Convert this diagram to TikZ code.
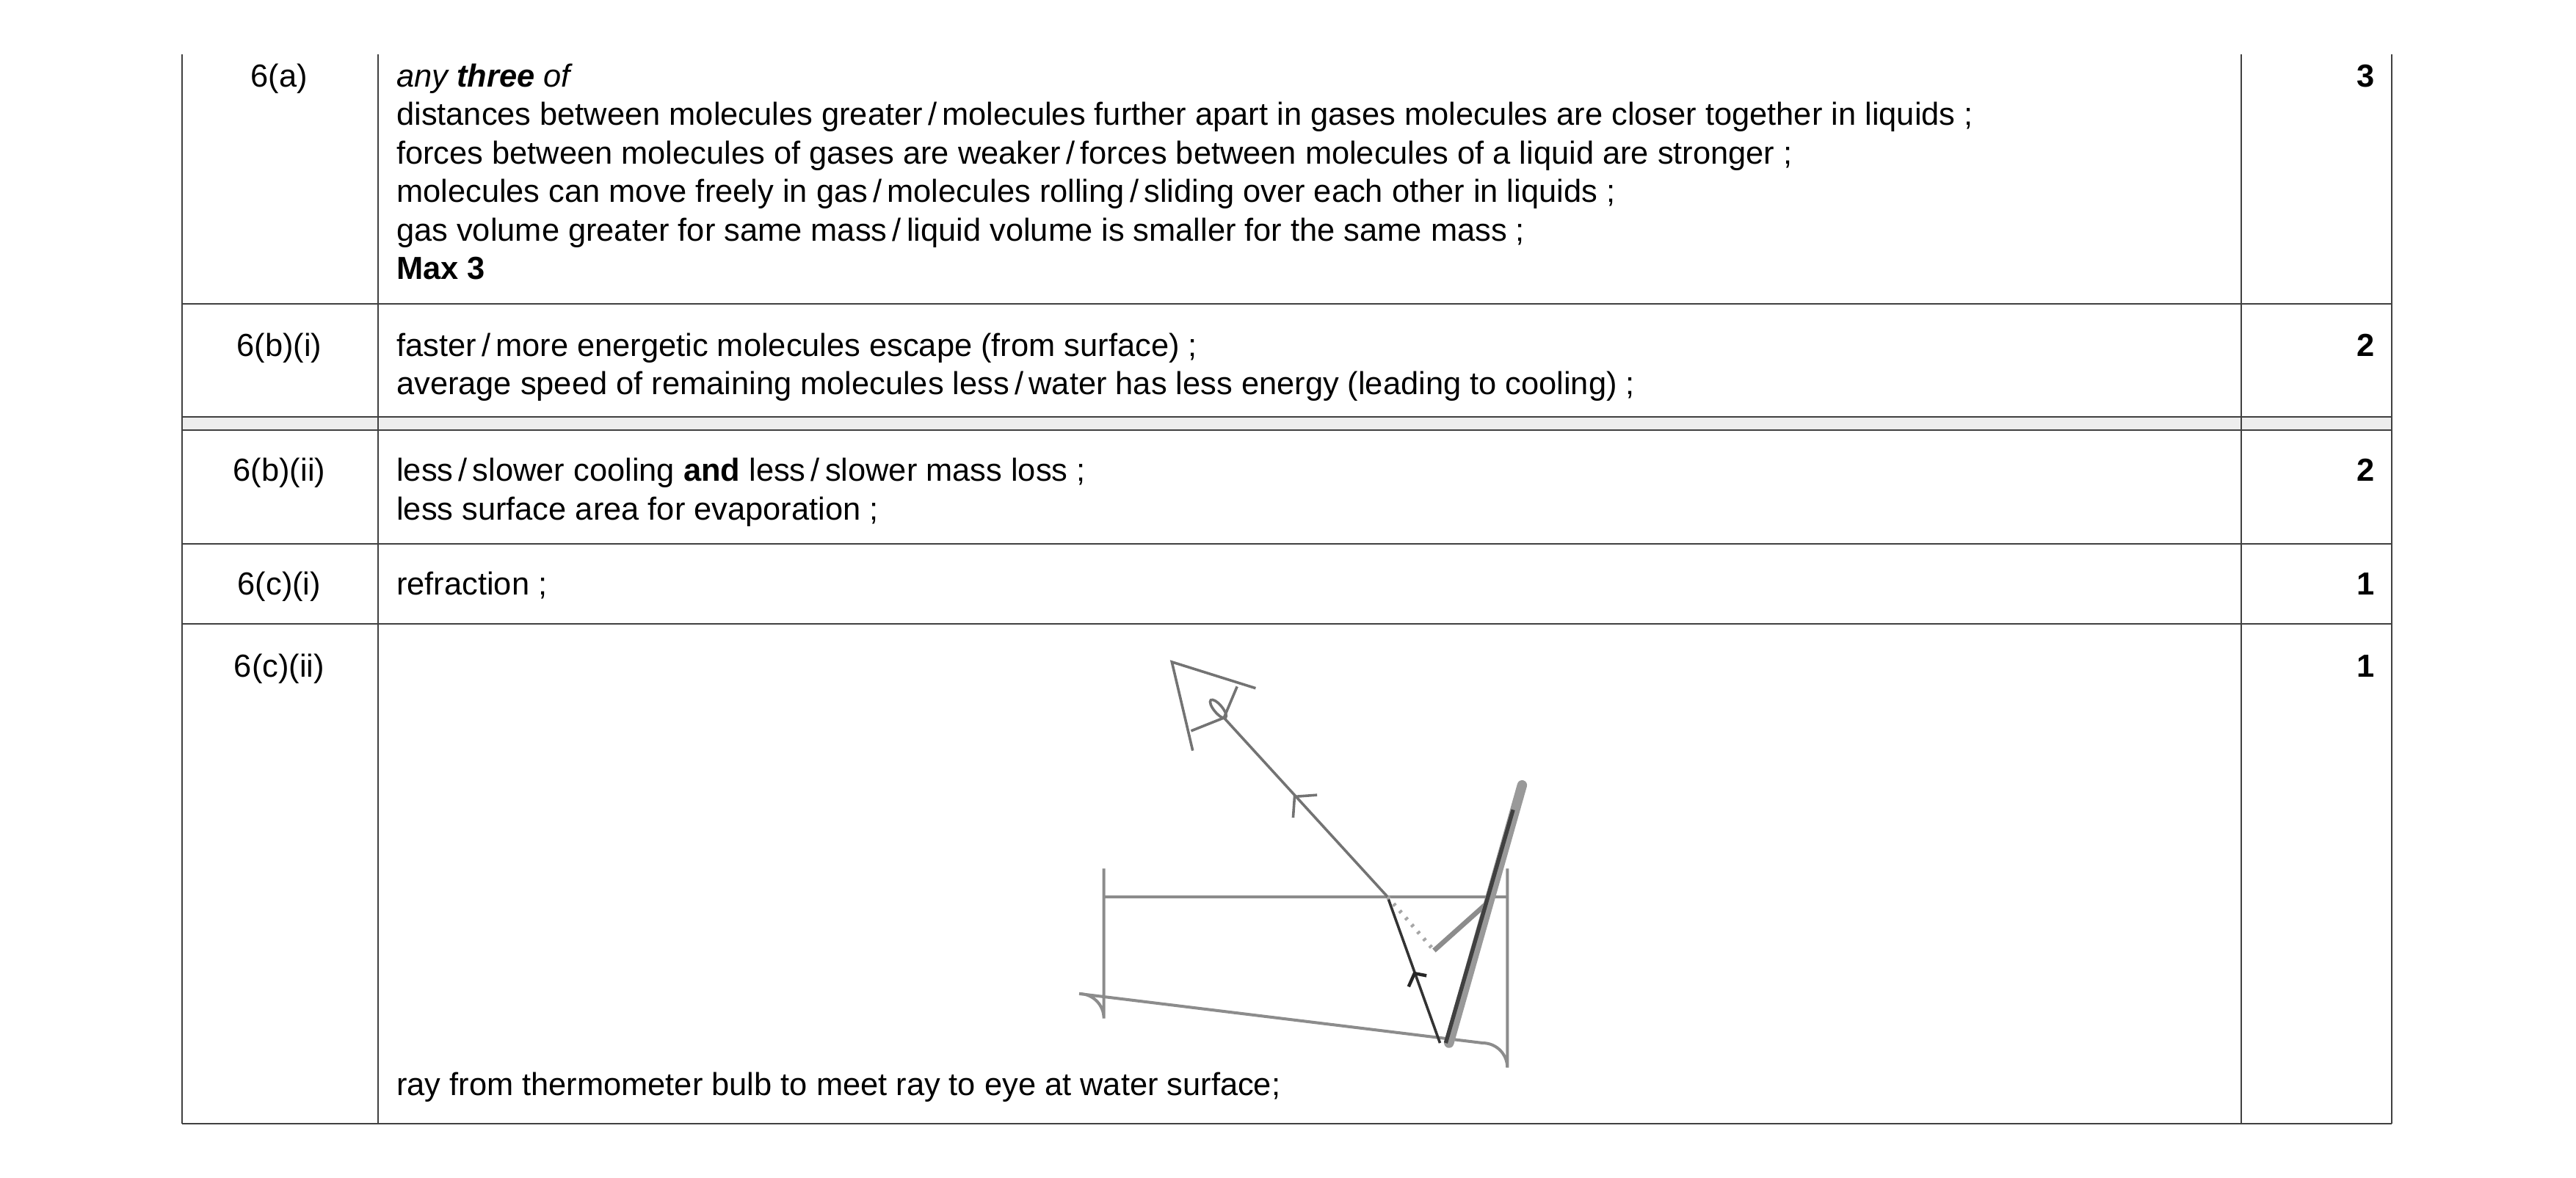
\documentclass[tikz,border=0pt]{standalone}
\usepackage{fontspec}
\setmainfont{Liberation Sans}
\begin{document}
\begin{tikzpicture}[x=0.5pt,y=-0.5pt,
  tl/.style={anchor=base west,inner sep=0pt,font=\fontsize{9.7}{11.7}\selectfont},
  lab/.style={anchor=base,inner sep=0pt,font=\fontsize{9.7}{11.7}\selectfont},
  mk/.style={anchor=base east,inner sep=0pt,font=\fontsize{9.7}{11.7}\selectfont\bfseries},
  grid/.style={draw=black!75,line width=0.45pt},
  gl/.style={draw=black!45,line width=0.9pt},
  ray/.style={draw=black!55,line width=0.8pt}]
\useasboundingbox (0,0) rectangle (1568,717);
% table
\fill[black!7] (111,254) rectangle (1456,262);
\foreach \x in {111,230,1364,1456} \draw[grid] (\x,33) -- (\x,684);
\foreach \y in {185,254,262,331,380,684} \draw[grid] (111,\y) -- (1456,\y);
% labels
\node[lab] (l1) at (170,53) {6(a)};
\node[lab] (l2) at (170,217) {6(b)(i)};
\node[lab] (l3) at (170,293) {6(b)(ii)};
\node[lab] (l4) at (170,362) {6(c)(i)};
\node[lab] (l5) at (170,412) {6(c)(ii)};
\node[mk] (m1) at (1446,53) {3};
\node[mk] (m2) at (1446,217) {2};
\node[mk] (m3) at (1446,293) {2};
\node[mk] (m4) at (1446,362) {1};
\node[mk] (m5) at (1446,412) {1};
% texts
\node[tl] (a1) at (241,53) {\itshape any \bfseries three\mdseries\ of};
\node[tl] (a2) at (241,76.4) {distances between molecules greater\,/\,molecules further apart in gases molecules are closer together in liquids ;};
\node[tl] (a3) at (241,99.8) {forces between molecules of gases are weaker\,/\,forces between molecules of a liquid are stronger ;};
\node[tl] (a4) at (241,123.2) {molecules can move freely in gas\,/\,molecules rolling\,/\,sliding over each other in liquids ;};
\node[tl] (a5) at (241,146.6) {gas volume greater for same mass\,/\,liquid volume is smaller for the same mass ;};
\node[tl] (a6) at (241,170) {\bfseries Max 3};
\node[tl] (b1) at (241,217) {faster\,/\,more energetic molecules escape (from surface) ;};
\node[tl] (b2) at (241,240.4) {average speed of remaining molecules less\,/\,water has less energy (leading to cooling) ;};
\node[tl] (c1) at (241,293) {less\,/\,slower cooling \textbf{and} less\,/\,slower mass loss ;};
\node[tl] (c2) at (241,316.4) {less surface area for evaporation ;};
\node[tl] (d1) at (241,362) {refraction ;};
\node[tl] (e1) at (241,667) {ray from thermometer bulb to meet ray to eye at water surface;};
% diagram
\coordinate (S) at (844.6,546);
\coordinate (B) at (876.5,635);
\coordinate (E) at (745,437);
\coordinate (I) at (872.9,578.7);
\coordinate (W) at (903.9,551);
\draw[gl] (671.9,528.8) -- (671.9,620) arc[start angle=180,end angle=90,radius=-15] -- (902.5,635) arc[start angle=270,end angle=360,radius=15] -- (917.5,528.8);
\draw[gl] (671.9,546) -- (917.5,546);
% eye
\draw[ray] (764.3,419) -- (713.3,403) -- (726,457);
\draw[ray] (725,445) -- (745,437) -- (753,418);
\draw[ray,rotate around={-50:(741.5,431.6)}] (741.5,431.6) ellipse[x radius=7,y radius=2.5];
% rays
\draw[ray] (S) -- (E);
\draw[ray] (801.7,484) -- (788,485) -- (787.1,497.8);
\draw[ray,draw=black!80] (S) -- (B);
\draw[ray,draw=black!85,line width=1pt] (868.3,594) -- (861,592.6) -- (857.4,600.7);
\draw[ray,draw=black!35,dotted,line width=1.2pt] (S) -- (I);
\draw[ray,draw=black!45,line width=1.5pt] (I) -- (W);
% thermometer
\draw[draw=black!40,line width=3pt,line cap=round] (882,635) -- (926.5,478);
\draw[draw=black!75,line width=1.2pt] (880,635) -- (921,493);
\end{tikzpicture}
\end{document}
